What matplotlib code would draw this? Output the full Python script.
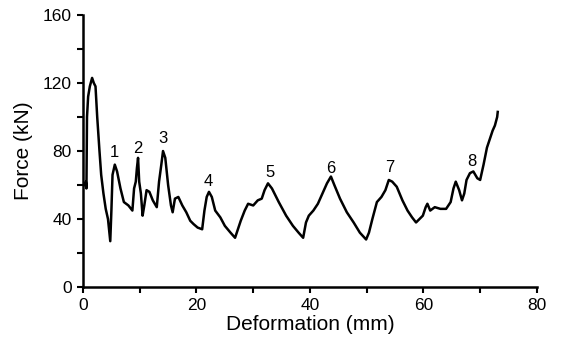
import numpy as np
import matplotlib
matplotlib.use("Agg")
import matplotlib.pyplot as plt
from matplotlib.ticker import MultipleLocator

plt.rcParams.update({"font.family": ["Liberation Sans", "DejaVu Sans"]})

# deformation (mm) / force (kN)
deform = [0.2, 0.5, 0.6, 0.7, 0.9, 1.2, 1.6, 1.9, 2.2, 2.5, 2.9, 3.2, 3.6, 4.0, 4.4, 4.8,
          5.0, 5.2, 5.6, 6.0, 6.6, 7.2, 8.0, 8.7, 9.0, 9.3, 9.5, 9.7, 9.9, 10.2, 10.5, 10.8,
          11.2, 11.7, 12.3, 13.0, 13.4, 13.8, 14.1, 14.5, 15.0, 15.5, 15.8, 16.2, 16.8, 17.5,
          18.2, 18.9, 19.5, 20.2, 21.0, 21.4, 21.8, 22.2, 22.7, 23.3, 24.2, 25.0, 26.0, 26.8,
          27.3, 27.8, 28.5, 29.1, 30.0, 30.8, 31.5, 32.0, 32.6, 33.3, 34.5, 35.8, 37.0, 38.0,
          38.8, 39.3, 39.8, 40.6, 41.4, 42.2, 43.0, 43.7, 44.3, 45.3, 46.5, 47.7, 48.8, 49.9,
          50.4, 51.0, 51.8, 52.6, 53.3, 53.9, 54.5, 55.3, 56.3, 57.2, 58.0, 58.7, 59.3, 59.9,
          60.4, 60.7, 61.2, 62.0, 63.0, 64.0, 64.8, 65.3, 65.7, 66.3, 66.8, 67.2, 67.6, 68.2,
          68.8, 69.5, 70.0, 70.6, 71.2, 71.7, 72.2, 72.6, 73.0, 73.1]
force = [60, 62, 58, 100, 112, 118, 123, 120, 118, 100, 80, 66, 55, 46, 40, 27,
         45, 66, 72, 68, 58, 50, 48, 45, 58, 62, 70, 76, 62, 55, 42, 48,
         57, 56, 51, 47, 62, 72, 80, 76, 60, 48, 44, 52, 53, 48,
         44, 39, 37, 35, 34, 45, 53, 56, 53, 45, 41, 36, 32, 29,
         34, 39, 45, 49, 48, 51, 52, 57, 61, 58, 50, 42, 36, 32,
         29, 38, 42, 45, 49, 55, 61, 65, 60, 52, 44, 38, 32, 28,
         32, 40, 50, 53, 57, 63, 62, 59, 51, 45, 41, 38, 40, 42,
         47, 49, 45, 47, 46, 46, 50, 58, 62, 57, 51, 55, 63, 67,
         68, 64, 63, 72, 82, 87, 92, 95, 100, 103]

# peak numbering (baseline positions)
peak_labels = ["1", "2", "3", "4", "5", "6", "7", "8"]
peak_x = [5.6, 9.7, 14.1, 22.1, 32.9, 43.7, 54.0, 68.6]
peak_y = [76.5, 79, 85, 59.5, 65, 67, 67.5, 71]

fig = plt.figure(figsize=(5.61, 3.48), dpi=100)
ax = fig.add_axes([0.148, 0.175, 0.809, 0.782])
ax.plot(deform, force, color="k", lw=1.8)
for t, x, y in zip(peak_labels, peak_x, peak_y):
    ax.text(x, y, t, ha="center", va="baseline", fontsize=12)

ax.set_xlim(0, 80); ax.set_ylim(0, 160)
ax.xaxis.set_major_locator(MultipleLocator(20)); ax.xaxis.set_minor_locator(MultipleLocator(10))
ax.yaxis.set_major_locator(MultipleLocator(40)); ax.yaxis.set_minor_locator(MultipleLocator(20))
ax.tick_params(which="both", direction="out", width=1.5, length=4, labelsize=12.5, pad=4)
for s in ["top", "right"]:
    ax.spines[s].set_visible(False)
for s in ["left", "bottom"]:
    ax.spines[s].set_linewidth(1.8)
ax.set_xlabel("Deformation (mm)", fontsize=15, labelpad=1)
ax.set_ylabel("Force (kN)", fontsize=15, labelpad=7)

fig.savefig("out.png", dpi=100)
